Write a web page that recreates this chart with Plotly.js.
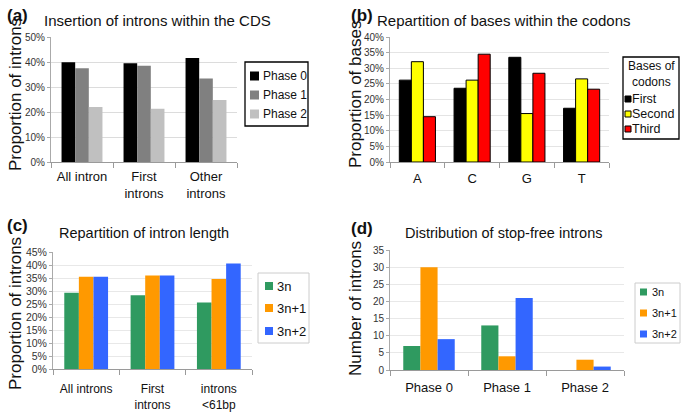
<!DOCTYPE html>
<html><head><meta charset="utf-8">
<script src="https://cdn.plot.ly/plotly-3.0.1.min.js"></script>
<style>html,body{margin:0;padding:0;background:#fff}#chart{width:685px;height:417px}</style>
</head><body><div id="chart"></div>
<script>
// ---- data ----
const aCategories = ["All intron", "First<br>introns", "Other<br>introns"];
const aSeries = ["Phase 0", "Phase 1", "Phase 2"];
const aPhase0 = [39.9, 39.5, 41.6];
const aPhase1 = [37.5, 38.5, 33.4];
const aPhase2 = [22.0, 21.3, 24.8];

const bCategories = ["A", "C", "G", "T"];
const bSeries = ["First", "Second", "Third"];
const bFirst = [26.2, 23.6, 33.5, 17.2];
const bSecond = [32.1, 26.2, 15.5, 26.6];
const bThird = [14.5, 34.5, 28.4, 23.3];

const cCategories = ["All introns", "First<br>introns", "introns<br>&lt;61bp"];
const cSeries = ["3n", "3n+1", "3n+2"];
const c3n = [29.3, 28.4, 25.6];
const c3n1 = [35.5, 36.0, 34.6];
const c3n2 = [35.5, 36.0, 40.6];

const dCategories = ["Phase 0", "Phase 1", "Phase 2"];
const dSeries = ["3n", "3n+1", "3n+2"];
const d3n = [7, 13, 0];
const d3n1 = [30, 4, 3];
const d3n2 = [9, 21, 1];

// ---- styling ----
const W = 685, H = 417;
const px = x => x / W;
const py = y => 1 - y / H;
const FONT = "Arial, 'Liberation Sans', sans-serif";
const aColors = ["#000000", "#808080", "#c0c0c0"];
const bColors = ["#000000", "#ffff00", "#ff0000"];
const cColors = ["#2f9a60", "#ff9900", "#3366ff"];

const traces = [];
function addBars(cats, series, vals, colors, xa, ya, line) {
  series.forEach((name, i) => {
    traces.push({
      type: "bar", x: cats, y: vals[i], name: name, xaxis: xa, yaxis: ya,
      marker: { color: colors[i], line: line ? { color: "#000", width: 1 } : { width: 0 } },
      showlegend: false, hoverinfo: "x+y+name"
    });
  });
}
addBars(aCategories, aSeries, [aPhase0, aPhase1, aPhase2], aColors, "x", "y", false);
addBars(bCategories, bSeries, [bFirst, bSecond, bThird], bColors, "x2", "y2", true);
addBars(cCategories, cSeries, [c3n, c3n1, c3n2], cColors, "x3", "y3", false);
addBars(dCategories, dSeries, [d3n, d3n1, d3n2], cColors, "x4", "y4", false);

function xaxis(domain, anchor, fontSize, standoff) {
  return {
    domain: domain, anchor: anchor, type: "category",
    showline: true, linecolor: "#9a9a9a", linewidth: 1,
    ticks: "outside", tickson: "boundaries", ticklen: 5, tickcolor: "#9a9a9a",
    ticklabelstandoff: standoff,
    tickfont: { family: FONT, size: fontSize, color: "#111" },
    showgrid: false, zeroline: false, fixedrange: true
  };
}
function yaxis(domain, anchor, range, dtick, suffix, fontSize, gridColor) {
  return {
    domain: domain, anchor: anchor, range: range, dtick: dtick, tick0: 0,
    ticksuffix: suffix, showline: true, linecolor: "#aaaaaa", linewidth: 1,
    ticks: "outside", ticklen: 3, tickcolor: "#aaaaaa",
    tickfont: { family: FONT, size: fontSize, color: "#333" },
    showgrid: true, gridcolor: gridColor, gridwidth: 1, zeroline: false, fixedrange: true
  };
}

const layout = {
  width: W, height: H, margin: { l: 0, r: 0, t: 0, b: 0 },
  paper_bgcolor: "#fff", plot_bgcolor: "#fff",
  barmode: "group", bargap: 0.34, bargroupgap: 0,
  showlegend: false,
  font: { family: FONT },
  xaxis: xaxis([px(51), px(237)], "y", 13, 2),
  yaxis: yaxis([py(162), py(37)], "x", [0, 50], 10, "%", 10, "#dcdcdc"),
  xaxis2: xaxis([px(390), px(609)], "y2", 13, 4),
  yaxis2: yaxis([py(162), py(37)], "x2", [0, 40], 5, "%", 10, "#e4e4e4"),
  xaxis3: xaxis([px(53), px(252)], "y3", 12, 9),
  yaxis3: yaxis([py(369), py(252)], "x3", [0, 45], 5, "%", 10.5, "#e8e8e8"),
  xaxis4: xaxis([px(390), px(624)], "y4", 13, 5),
  yaxis4: yaxis([py(370), py(250)], "x4", [0, 35], 5, "", 10, "#e8e8e8"),
  annotations: [],
  shapes: []
};

function ann(text, x, y, size, opts) {
  layout.annotations.push(Object.assign({
    text: text, xref: "paper", yref: "paper", x: px(x), y: py(y),
    xanchor: "center", yanchor: "middle", showarrow: false,
    font: { family: FONT, size: size, color: "#111" }
  }, opts || {}));
}
// panel letters
ann("<b>(a)</b>", 17, 15, 17);
ann("<b>(b)</b>", 362, 15, 17);
ann("<b>(c)</b>", 17, 226, 17);
ann("<b>(d)</b>", 362, 228, 17);
// titles
ann("Insertion of introns within the CDS", 157, 20, 15);
ann("Repartition of bases within the codons", 504, 20, 15);
ann("Repartition of intron length", 144, 233, 14.5);
ann("Distribution of stop-free introns", 504, 233, 14.5);
// y titles
ann("Proportion of introns", 15, 95, 17, { textangle: -90 });
ann("Proportion of bases", 355, 95, 17, { textangle: -90 });
ann("Proportion of introns", 15, 314, 17, { textangle: -90 });
ann("Number of introns", 355, 309, 17, { textangle: -90 });

// legends (drawn from series names and colours)
function legend(box, border, title, series, colors, itemY, swX, sw, txtX, size, outline) {
  layout.shapes.push({ type: "rect", xref: "paper", yref: "paper",
    x0: px(box[0]), x1: px(box[1]), y0: py(box[3]), y1: py(box[2]),
    line: { color: border.color, width: border.width }, fillcolor: "#fff" });
  if (title) ann(title[0], (box[0] + box[1]) / 2, title[1], title[2]);
  series.forEach((name, i) => {
    const yc = itemY[i];
    layout.shapes.push({ type: "rect", xref: "paper", yref: "paper",
      x0: px(swX), x1: px(swX + sw), y0: py(yc + sw / 2), y1: py(yc - sw / 2),
      fillcolor: colors[i], line: { color: outline ? "#000" : colors[i], width: outline ? 1 : 0 } });
    ann(name, txtX, yc, size, { xanchor: "left" });
  });
}
legend([245, 308, 62, 126], { color: "#000", width: 1.3 }, null, aSeries, aColors,
  [76, 95, 114], 250, 9, 261, 12, false);
legend([623, 679, 57, 139], { color: "#000", width: 1.3 }, ["Bases of<br>codons", 74, 12],
  bSeries, bColors, [99, 114, 129], 625, 6, 630, 12.5, true);
legend([258, 309, 273, 343], { color: "#cccccc", width: 1 }, null, cSeries, cColors,
  [286, 308, 331], 265, 8, 275, 13, false);
legend([635, 680, 283, 343], { color: "#cccccc", width: 1 }, null, dSeries, cColors,
  [292, 313, 334], 640, 7, 650, 11, false);

Plotly.newPlot("chart", traces, layout, { displayModeBar: false, staticPlot: true });
</script>
</body></html>
